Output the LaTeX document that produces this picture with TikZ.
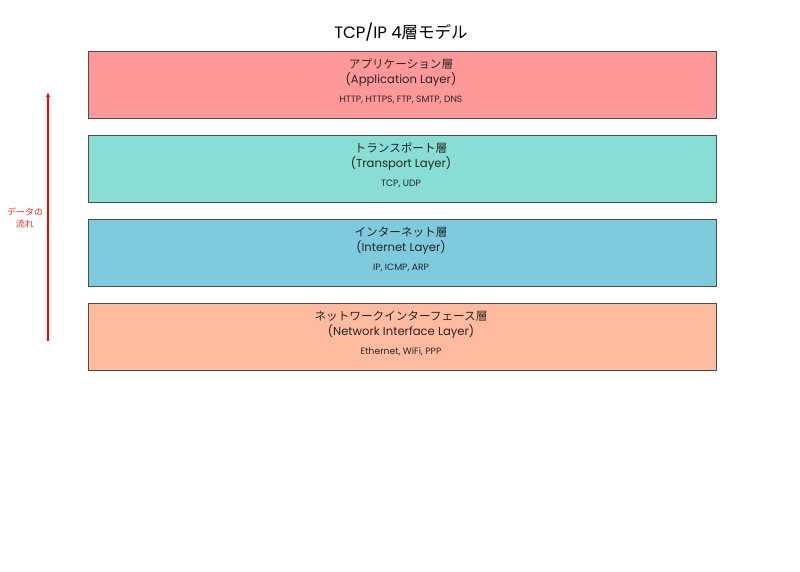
\documentclass[tikz,border=0pt]{standalone}
\usepackage{fontspec}
\setmainfont{Poppins}
\newfontfamily\jp{Noto Sans CJK JP}
\usetikzlibrary{arrows.meta}
\begin{document}
\begin{tikzpicture}[x=1pt,y=-1pt,
  layer/.style={draw=black!70,line width=1.4pt,minimum width=628pt,minimum height=67pt,anchor=north west,inner sep=0pt},
  lname/.style={font=\fontsize{11.6}{15}\selectfont,align=center,text=black!85},
  proto/.style={font=\fontsize{9.2}{11}\selectfont,text=black!85}]
\useasboundingbox (0,0) rectangle (800,572);
\definecolor{cA}{HTML}{FF9999}
\definecolor{cB}{HTML}{88DDD4}
\definecolor{cC}{HTML}{7ECBDD}
\definecolor{cD}{HTML}{FFBBA0}
\node[font=\fontsize{16.5}{18}\selectfont] (title) at (401,32) {TCP/IP 4{\jp 層モデル}};
\node[layer,fill=cA] (app) at (88,51) {};
\node[layer,fill=cB] (tr) at (88,135) {};
\node[layer,fill=cC] (inet) at (88,219) {};
\node[layer,fill=cD] (net) at (88,303) {};
\node[lname] (appn) at (401,72.5) {{\jp アプリケーション層}\\(Application Layer)};
\node[proto] (appp) at (401,100) {HTTP, HTTPS, FTP, SMTP, DNS};
\node[lname] (trn) at (401,156.5) {{\jp トランスポート層}\\(Transport Layer)};
\node[proto] (trp) at (401,184) {TCP, UDP};
\node[lname] (inetn) at (401,240.5) {{\jp インターネット層}\\(Internet Layer)};
\node[proto] (inetp) at (401,268) {IP, ICMP, ARP};
\node[lname] (netn) at (401,324.5) {{\jp ネットワークインターフェース層}\\(Network Interface Layer)};
\node[proto] (netp) at (401,352) {Ethernet, WiFi, PPP};
\coordinate (abot) at (48,341);
\coordinate (atop) at (48,92);
\draw[red,line width=1.5pt,-{Latex[length=5pt,width=4pt]}] (abot) -- (atop);
\node[font=\jp\fontsize{9}{12}\selectfont,text=red!85,align=center] (flow) at (25,218) {データの\\流れ};
\end{tikzpicture}
\end{document}
